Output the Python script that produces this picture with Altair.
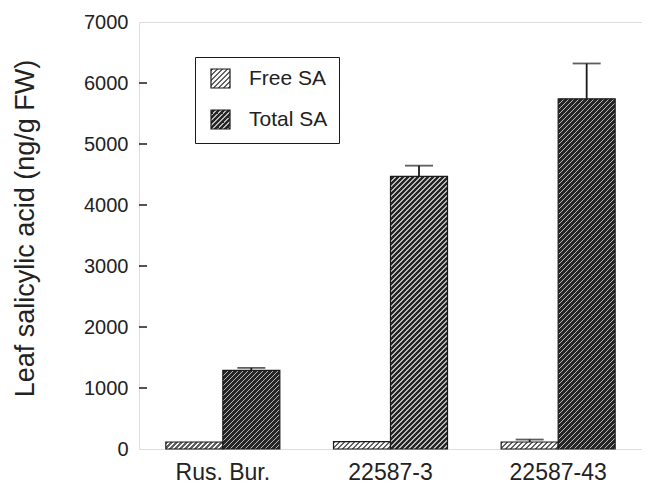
import altair as alt

# ---- data ----
genotypes = ["Rus. Bur.", "22587-3", "22587-43"]
series_names = ["Free SA", "Total SA"]
free_sa = [115, 120, 115]
free_err = [0, 0, 40]
total_sa = [1290, 4470, 5740]
total_err = [40, 175, 580]
y_ticks = [0, 1000, 2000, 3000, 4000, 5000, 6000, 7000]

# ---- layout / style constants ----
W, H = 503, 427
Y_MAX = 7000
PAD_INNER = 0.32
BAR_W = W / len(genotypes) * (1 - PAD_INNER) / 2
PX_PER_UNIT = H / Y_MAX
INK = "#1a1a1a"
FONT = "Liberation Sans"
# base colour, stripe colour, stripe fraction of period
HATCH = {"Free SA": ("#f6f6f6", "#606060", 0.45),
         "Total SA": ("#262626", "#b8b8b8", 0.28)}


def hatch(w, h, base, line, frac, period=5.0):
    """Linear gradient giving '/' hatching at 45 degrees in user space."""
    c = (w + h) / (w * w + h * h)
    total = w + h
    stops = []
    k = 0
    while True:
        a = k * period / total
        if a >= 1:
            break
        b = min(1.0, (k * period + period * frac) / total)
        nxt = min(1.0, (k + 1) * period / total)
        stops += [{"offset": a, "color": line}, {"offset": b, "color": line},
                  {"offset": b, "color": base}, {"offset": nxt, "color": base}]
        k += 1
    return {"gradient": "linear", "x1": 0, "y1": 0, "x2": c * w, "y2": c * h,
            "stops": stops}


rows = []
err_rows = []
for i, g in enumerate(genotypes):
    for s, vals, errs in (("Free SA", free_sa, free_err), ("Total SA", total_sa, total_err)):
        v = vals[i]
        base, line, frac = HATCH[s]
        rows.append({"genotype": g, "series": s, "value": v,
                     "grad": hatch(BAR_W, max(v * PX_PER_UNIT, 1), base, line, frac)})
        if errs[i] > 0:
            err_rows.append({"genotype": g, "series": s, "value": v, "top": v + errs[i]})

sym = 19
legend_free = hatch(sym, sym, *HATCH["Free SA"])
legend_total = hatch(sym, sym, *HATCH["Total SA"])
p_free = alt.param(name="gFree", value=legend_free)
p_total = alt.param(name="gTotal", value=legend_total)

x_enc = alt.X("genotype:N", sort=genotypes,
              scale=alt.Scale(paddingInner=PAD_INNER, paddingOuter=PAD_INNER / 2),
              axis=alt.Axis(title=None, labelAngle=0, labelFontSize=23, labelPadding=12,
                            labelColor="#222", domain=False, ticks=False, tickSize=0,
                            labelFont=FONT))
xo_enc = alt.XOffset("series:N", sort=series_names,
                     scale=alt.Scale(paddingInner=0, paddingOuter=0))
y_scale = alt.Scale(domain=[0, Y_MAX], nice=False)

bars = alt.Chart(alt.Data(values=rows)).mark_bar(strokeWidth=1.2).encode(
    x=x_enc,
    xOffset=xo_enc,
    y=alt.Y("value:Q", scale=y_scale,
            axis=alt.Axis(values=y_ticks, format="d", title="Leaf salicylic acid (ng/g FW)",
                          titleFontSize=27, titleFontWeight="normal", titleColor="#222",
                          titlePadding=44, titleFont=FONT, titleY=206,
                          labelFontSize=20, labelPadding=11, labelColor="#222",
                          labelFont=FONT, domain=False, ticks=False, tickSize=0,
                          grid=False)),
    fill=alt.Fill("grad:N", scale=None),
    stroke=alt.Stroke("series:N", sort=series_names,
                      scale=alt.Scale(domain=series_names, range=[INK, INK]),
                      legend=alt.Legend(
                          title=None, orient="none", legendX=56, legendY=35,
                          padding=11, symbolOffset=4, symbolType="square",
                          symbolSize=sym * sym, symbolStrokeWidth=1.2,
                          symbolStrokeColor=INK,
                          symbolFillColor={"expr": "datum.value === 'Free SA' ? gFree : gTotal"},
                          labelFontSize=21, labelFont=FONT, labelColor="#222",
                          labelOffset=18, rowPadding=16, strokeColor=INK)),
)

inner_ticks = alt.Chart(alt.Data(values=[{"t": t} for t in y_ticks[1:-1]])).mark_rule(
    color=INK, strokeWidth=1.5).encode(
    x=alt.value(0), x2=alt.value(8), y=alt.Y("t:Q", scale=y_scale))

err_data = alt.Data(values=err_rows)
err_line = alt.Chart(err_data).mark_rule(color=INK, strokeWidth=1.8).encode(
    x=x_enc, xOffset=xo_enc, y=alt.Y("value:Q", scale=y_scale), y2="top:Q")
err_cap = alt.Chart(err_data).mark_tick(color=INK, size=28, thickness=1.8).encode(
    x=x_enc, xOffset=xo_enc, y=alt.Y("top:Q", scale=y_scale))

chart = alt.layer(bars, inner_ticks, err_line, err_cap).add_params(
    p_free, p_total
).properties(
    width=W, height=H,
    autosize=alt.AutoSizeParams(type="none"),
    padding={"left": 131, "top": 14, "right": 0, "bottom": 36},
).configure_view(stroke=INK, strokeWidth=1.6).configure_legend(
    strokeWidth=1.6
).configure(font=FONT)

chart.save("out.html", embed_options={"renderer": "svg", "actions": False})
